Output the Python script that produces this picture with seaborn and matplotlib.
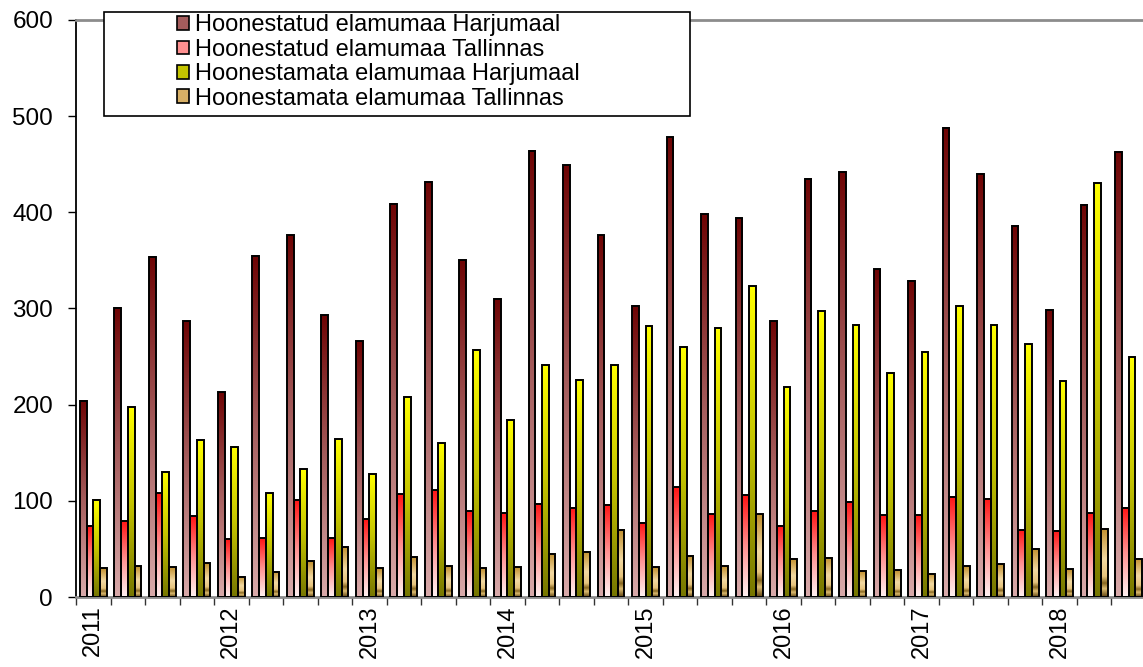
import numpy as np
import pandas as pd
import matplotlib
matplotlib.use("Agg")
import matplotlib.pyplot as plt
import seaborn as sns
from matplotlib.colors import LinearSegmentedColormap
from matplotlib.patches import Rectangle, Patch

# kvartalid 2011 Q1 ... 2018 Q3
years = [2011, 2012, 2013, 2014, 2015, 2016, 2017, 2018]
quarters = [f"{y} Q{q}" for y in years for q in range(1, 5)][:31]

series_names = [
    "Hoonestatud elamumaa Harjumaal",
    "Hoonestatud elamumaa Tallinnas",
    "Hoonestamata elamumaa Harjumaal",
    "Hoonestamata elamumaa Tallinnas",
]

hoon_harju = [204, 301, 354, 287, 213, 355, 376, 293, 266, 409, 432, 350, 310, 464, 449, 376,
              303, 478, 398, 394, 287, 435, 442, 341, 329, 488, 440, 386, 298, 408, 463]
hoon_tln = [74, 79, 108, 84, 60, 61, 101, 61, 81, 107, 111, 89, 87, 97, 93, 96,
            77, 114, 86, 106, 74, 89, 99, 85, 85, 104, 102, 70, 69, 87, 93]
hoonm_harju = [101, 198, 130, 163, 156, 108, 133, 164, 128, 208, 160, 257, 184, 241, 226, 241,
               282, 260, 280, 323, 218, 297, 283, 233, 255, 303, 283, 263, 225, 431, 250]
hoonm_tln = [30, 32, 31, 35, 21, 26, 37, 52, 30, 42, 32, 30, 31, 45, 47, 70,
             31, 43, 32, 86, 40, 41, 27, 28, 24, 32, 34, 50, 29, 71, 40]

df = pd.DataFrame({
    "kvartal": quarters * 4,
    "seeria": [s for s in series_names for _ in quarters],
    "arv": hoon_harju + hoon_tln + hoonm_harju + hoonm_tln,
})

# gradiendid (ülevalt alla)
gradients = [
    [(0.0, "#6e0404"), (0.5, "#a45c5c"), (1.0, "#d9aaaa")],
    [(0.0, "#ff1414"), (0.5, "#ff9090"), (1.0, "#fff2f2")],
    [(0.0, "#ffff00"), (0.5, "#c4c400"), (1.0, "#767600")],
    [(0.0, "#c08e2c"), (0.45, "#f2d9a2"), (0.7, "#e6c47e"), (0.8, "#866620"),
     (0.88, "#dcbc72"), (1.0, "#604410")],
]
legend_colors = ["#a45c5c", "#ff9090", "#c4c400", "#d8b066"]
cmaps = [LinearSegmentedColormap.from_list(f"g{i}", g) for i, g in enumerate(gradients)]

sns.set_style("white")
plt.rcParams['font.family'] = ['Liberation Sans', 'DejaVu Sans']
plt.rcParams['text.color'] = 'black'
plt.rcParams['xtick.color'] = 'black'
plt.rcParams['ytick.color'] = 'black'

fig = plt.figure(figsize=(11.43, 6.67), dpi=100)
ax = fig.add_axes([76 / 1143, 1 - 597 / 667, (1146 - 76) / 1143, 577 / 667])

sns.barplot(data=df, x="kvartal", y="arv", hue="seeria", order=quarters,
            hue_order=series_names, width=0.78, gap=0, legend=False, ax=ax,
            palette=legend_colors, saturation=1)

grad = np.linspace(0, 1, 256).reshape(-1, 1)
for i, cont in enumerate(ax.containers):
    for bar in cont:
        x0 = bar.get_x()
        w = bar.get_width()
        h = bar.get_height()
        ax.imshow(grad, cmap=cmaps[i], extent=(x0, x0 + w, 0, h), origin="upper",
                  aspect="auto", zorder=2, interpolation="bilinear")
        bar.set_facecolor("none")
        bar.set_edgecolor("black")
        bar.set_linewidth(1.4)
        bar.set_zorder(3)

ax.set_xlim(-0.5, 30.5)
ax.set_ylim(0, 600)
ax.set_yticks(range(0, 601, 100))
ax.tick_params(axis="y", labelsize=17.5, length=6, width=1, color="black",
               labelcolor="black", left=True, pad=10.5)

# teljed
ax.spines["left"].set_color("black")
ax.spines["left"].set_linewidth(1.3)
ax.spines["bottom"].set_color("#8c8c8c")
ax.spines["bottom"].set_linewidth(2)
ax.spines["top"].set_color("#8c8c8c")
ax.spines["top"].set_linewidth(2)
ax.spines["right"].set_visible(False)

ax.set_xticks(np.arange(-0.5, 31, 1))
ax.set_xticklabels([])
ax.tick_params(axis="x", which="major", length=6, width=1, color="#333333", bottom=True)
ax.set_xticks(np.arange(0, 31, 4), minor=True)
ax.set_xticklabels([str(y) for y in years], minor=True, rotation=90, fontsize=17)
ax.tick_params(axis="x", which="minor", length=0, pad=6, labelcolor="black")
ax.set_xlabel("")
ax.set_ylabel("")

# legendi raam
fig.patches.append(Rectangle((104 / 1143, 1 - 116 / 667), (690 - 104) / 1143, 104 / 667,
                             transform=fig.transFigure, facecolor="white",
                             edgecolor="black", linewidth=1.2, zorder=5))
handles = [Patch(facecolor=c, edgecolor="black", linewidth=1.2) for c in legend_colors]
leg = fig.legend(handles, series_names, loc="upper left",
                 bbox_to_anchor=(168 / 1143, 1 - 5 / 667), frameon=False,
                 fontsize=17, handlelength=0.5, handleheight=0.5,
                 handletextpad=0.25, labelspacing=0.1, borderaxespad=0,
                 labelcolor="black")
leg.set_zorder(6)

fig.savefig("out.png", dpi=100)
